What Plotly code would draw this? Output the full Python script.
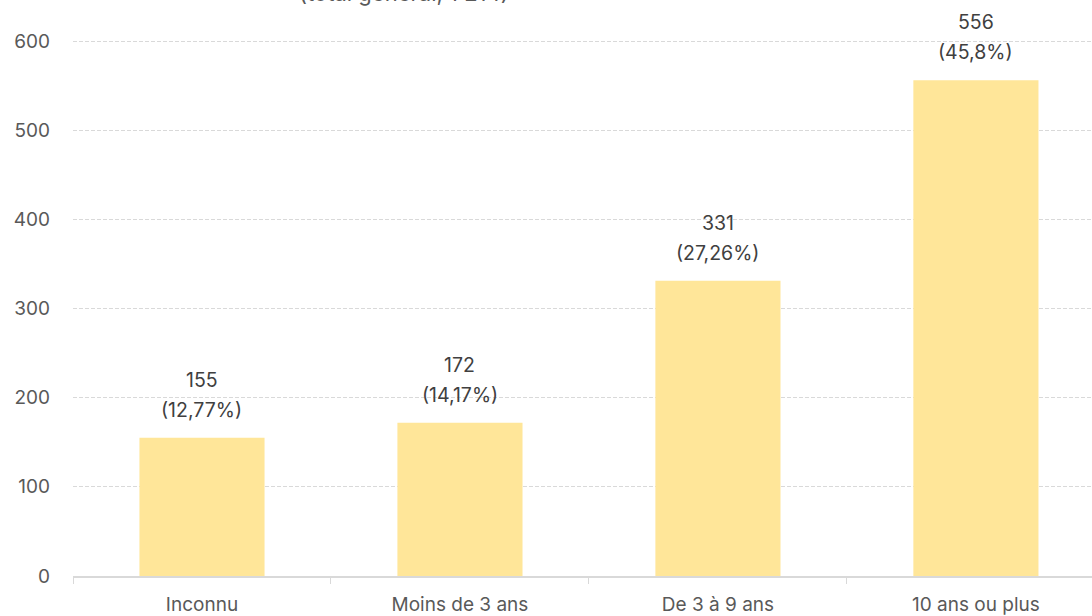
import plotly.graph_objects as go

categories = ["Inconnu", "Moins de 3 ans", "De 3 à 9 ans", "10 ans ou plus"]
counts = [155, 172, 331, 556]
percents = ["12,77%", "14,17%", "27,26%", "45,8%"]
y_ticks = [0, 100, 200, 300, 400, 500, 600]
subtitle = "(total général, 1 214)"

FONT = "Inter, Open Sans, sans-serif"
LABEL_COLOR = "#404040"

fig = go.Figure(
    go.Bar(
        x=categories,
        y=counts,
        marker=dict(color="#FFE699", line=dict(width=0)),
        width=0.485,
        cliponaxis=False,
        hoverinfo="x+y",
    )
)

annotations = []
for cat, c, p in zip(categories, counts, percents):
    annotations.append(dict(
        x=cat, y=c, xref="x", yref="y", text=f"({p})", showarrow=False,
        yanchor="middle", yshift=28,
        font=dict(family=FONT, size=19.5, color=LABEL_COLOR),
    ))
    annotations.append(dict(
        x=cat, y=c, xref="x", yref="y", text=str(c), showarrow=False,
        yanchor="middle", yshift=58,
        font=dict(family=FONT, size=19.5, color=LABEL_COLOR),
    ))
annotations.append(dict(
    text=subtitle,
    xref="paper", yref="paper",
    x=0.325, y=0.986,
    xanchor="center", yanchor="bottom",
    showarrow=False,
    font=dict(family=FONT, size=22, color="#595959"),
))

fig.update_layout(
    width=1092,
    height=616,
    margin=dict(l=73, r=0, t=0, b=40),
    plot_bgcolor="white",
    paper_bgcolor="white",
    showlegend=False,
    font=dict(family=FONT, size=19, color="#595959"),
    annotations=annotations,
)

fig.update_xaxes(
    range=[-0.5, 3.45],
    showgrid=False,
    showline=True,
    linecolor="#d9d9d9",
    linewidth=1.5,
    ticks="outside",
    tickson="boundaries",
    ticklen=6,
    tickcolor="#d9d9d9",
    ticklabelstandoff=10,
    tickfont=dict(family=FONT, size=19, color="#595959"),
)

fig.update_yaxes(
    range=[0, 646],
    tickvals=y_ticks,
    showgrid=True,
    gridcolor="#d9d9d9",
    griddash="4px,2px",
    gridwidth=1,
    zeroline=False,
    showline=False,
    ticks="",
    ticklabelstandoff=22,
    tickfont=dict(family=FONT, size=19, color="#595959"),
)

fig.write_html(
    "out.html",
    config={"displayModeBar": False},
    post_script="document.body.style.margin='0';document.body.style.overflow='hidden';",
)
